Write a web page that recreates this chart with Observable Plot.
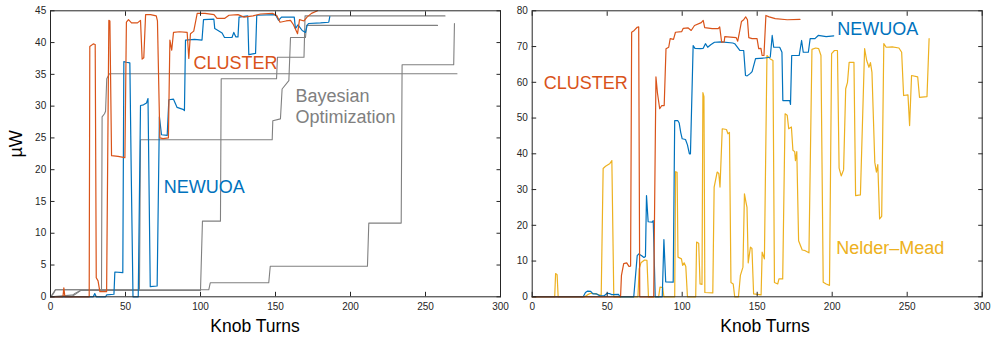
<!DOCTYPE html>
<html><head><meta charset="utf-8">
<script src="https://cdn.jsdelivr.net/npm/d3@7"></script>
<script src="https://cdn.jsdelivr.net/npm/@observablehq/plot@0.6"></script>
<style>
html,body{margin:0;padding:0;background:#fff;}
#wrap{position:relative;width:995px;height:341px;overflow:hidden;background:#fff;}
#left{position:absolute;left:0;top:0;z-index:2;}
#right{position:absolute;left:505px;top:0;z-index:1;}
#wrap svg{overflow:visible;}
</style></head><body><div id="wrap"><div id="left"></div><div id="right"></div></div>
<script>
// ---------- tick values ----------
const xTicks = [0, 50, 100, 150, 200, 250, 300];
const yTicksLeft = [0, 5, 10, 15, 20, 25, 30, 35, 40, 45];
const yTicksRight = [0, 10, 20, 30, 40, 50, 60, 70, 80];

// ---------- left panel: [knob turns, µW] ----------
const clusterLeft = [[0,0],[8.3,0],[8.9,1.4],[9.6,0],[25.8,0],[26.2,39.4],[27.5,39.6],[28.5,39.8],[29.8,39.7],[30.5,3.0],[31.7,2.5],[32.9,0.8],[37.4,0.8],[38.9,43.5],[39.6,43.4],[40.7,22.2],[45,22.1],[49.6,21.9],[50.6,43.2],[52,43.6],[54,43.1],[58,43.1],[60,43.5],[61.1,37.4],[62.2,37.6],[63.4,44.4],[66.7,44.4],[70.5,44.2],[71.3,43.4],[72.9,25.0],[75,24.9],[78.6,25.0],[79.6,40.4],[80.8,38.8],[82,41.6],[86,41.7],[91.1,41.6],[92.2,37.5],[93.3,41.4],[95.5,41.8],[97.8,44.6],[103,44.6],[109,44.4],[111,43.8],[116,43.8],[119,44.3],[125,44.4],[129,44.0],[135,44.2],[140,44.5],[148,44.6],[151,44.2],[153,43.2],[157,43.4],[160,43.5],[162,42.8],[164.7,41.4],[166,43.6],[169,43.4],[171,44.0],[174,44.6],[178,45]];
const newuoaLeft = [[0,0],[28.5,0],[29.5,0.5],[30.5,0],[36.7,0],[37.5,0.3],[42.3,0.4],[42.9,3.9],[48.2,3.8],[48.9,37.0],[50.5,36.9],[52.9,36.8],[53.8,20],[55,0],[58.5,0],[60,30.1],[62,30.2],[64,30.5],[65,31.2],[66.5,1.6],[71.1,1.7],[72.6,28.3],[74,25.5],[77.8,25.4],[78.9,31.0],[82,31.1],[84.4,29.8],[88.3,29.5],[89.3,29.3],[90,40.4],[96,40.5],[101,40.4],[102,43.6],[108.9,43.7],[109.5,42.2],[114.4,41.5],[116,40.8],[121,40.8],[122.2,41.6],[123.5,40.9],[125,40.9],[125.7,44.0],[131.5,44.2],[132.2,38.1],[136.7,38.3],[137.5,44.3],[150,44.4],[152,43.5],[154,44.0],[162.5,44.0],[163.3,42.2],[165,42.8],[167.8,41.9],[170,41.6],[171.1,42.7],[172,43.0],[180,43.1],[185.5,43.2],[186.2,44.1]];
const bayesLeftA = [[0,0],[1,0.3],[3.3,1.1],[105.5,1.1],[106.5,2.2],[145.5,2.2],[146.5,4.8],[211.3,4.8],[212.2,11.6],[233.8,11.6],[234.4,36.5],[268.8,36.5],[269.3,43.0]];
const bayesLeftB = [[0,0],[14.5,0],[16,0.5],[20,1.0],[34,1.0],[34.4,28.3],[36,28.8],[36.7,29.2],[37.5,34.3],[39.3,35.1],[271,35.1]];
const bayesLeftC = [[0,0],[2,0.5],[3.3,1.1],[59.3,1.1],[60,24.7],[147.8,24.7],[148.2,27.7],[153.3,28.0],[154.4,32.7],[158.9,34.0],[160,40.8],[170,40.8],[170.7,42.7],[258,42.7]];
const bayesLeftD = [[0,0],[16,0.3],[20,1.0],[100,1.0],[101.3,11.9],[113.3,11.9],[113.8,34.3],[150.7,34.3],[151.3,37.7],[169,37.7],[169.7,44.2],[263,44.2]];

// ---------- right panel: [knob turns, µW] ----------
const clusterRight = [[0,0],[58.9,0],[59.5,6],[61,9.3],[63,9.5],[64.5,8.5],[65.6,8.6],[66.3,74.0],[68,74.5],[70,75.4],[71,75.5],[71.7,0],[81,0],[82.5,61.5],[83.5,57],[85,52.6],[86.4,53.5],[88,53.5],[89.2,69.4],[91,69.8],[92,72.2],[94.2,72],[95.5,74],[99.7,74.2],[100.7,75.1],[104,75.2],[106,74.5],[108.2,75.9],[112.7,76.7],[114,77.3],[115,75.3],[120,75],[124,75],[125,75.5],[126.3,71.2],[128,71.3],[128.4,72.8],[136,72.5],[137,71.5],[138,73.6],[139.5,77],[141,77.5],[142.3,78.3],[143.5,77.5],[144.4,72.5],[146.6,72.2],[149.9,72.2],[151,69.4],[152.5,69.5],[153.3,67.5],[154.5,67.5],[155.8,78.7],[158,78.3],[162,77.8],[170,77.5],[178.5,77.6]];
const newuoaRight = [[0,0],[34,0],[35.5,1.2],[37,1.6],[39,1.5],[40.5,0.8],[43,0.8],[45,0.3],[48,0.3],[50,1.0],[51.5,0.9],[53,0.6],[57.5,0.7],[58.5,0],[67.7,0],[70,11.5],[71.1,12.0],[73,11.5],[74.5,11],[75.5,11.3],[76.2,28.3],[77.3,21.0],[80,20.9],[80.7,21.3],[82,0],[86.7,0],[87.8,16.0],[89,4.2],[94,4.1],[95,49.3],[97,49.3],[98,48.6],[99,46],[100,44.2],[102.2,44],[103.5,42.5],[104.8,40],[105.5,40],[107.3,70.3],[108.5,69.5],[112,69.4],[114,69.5],[115.5,70.8],[117,69.8],[119,70.5],[121.5,71.2],[126,71.3],[133.7,71],[135,70.8],[138.4,68.9],[141,68.9],[142.2,61.9],[143.3,61.8],[145.5,62.5],[146.6,63],[148.9,66.6],[155,66.8],[158.7,67],[160,73.1],[161,69.8],[165,69.8],[166.5,68.4],[167.1,54.9],[171.7,54.9],[172.2,53.8],[173,67.5],[178,67.5],[179.6,71.7],[180.7,68.4],[184.1,68.4],[185.3,72.2],[188.5,72.2],[190.7,73.1],[196,72.8],[201,73.0]];
const nelderMead = [[0,0],[15,0],[15.6,6.5],[16.6,6.2],[17.3,0],[35,0],[37,0.6],[39,1.0],[42,0.9],[44,0.6],[46,0.4],[47.3,35.9],[48.9,36.5],[51.6,37.2],[53.1,38.1],[54.4,0],[70.5,0],[71.3,7.8],[72.5,9.5],[74.9,10.3],[76.5,10.2],[77.5,0],[84.3,0],[85.2,2.7],[87,2.6],[87.8,0],[95,0],[95.6,35],[96.6,34.8],[97.2,11.1],[99.5,10.6],[100.3,8.8],[101.3,9.5],[102.4,8.5],[103.5,0],[109,0],[109.6,15.3],[111,15],[111.9,3.6],[113.2,3.5],[113.8,57.1],[114.5,56],[115.1,1.2],[120.4,1.1],[121.3,30.7],[123.3,34.9],[124.4,34.5],[125.2,30.7],[126.7,47],[129.5,46.8],[130.5,45.6],[131.5,46],[132.5,4],[134,3.6],[135,0],[137.5,0],[138.8,6],[140.5,8.3],[141.5,28.8],[142.5,26.5],[143.2,25],[144,9.5],[145.5,13.9],[146.5,13.5],[147.6,0.8],[151.5,0.6],[152.6,0.5],[153.3,12.5],[154.8,10.6],[156.5,67.5],[158.5,66.6],[160.5,66.1],[161.5,4],[163.7,3.6],[164.5,5],[167,5],[168.6,51.2],[170,50.8],[171,47],[172.8,47.5],[173.8,41],[175,40.6],[175.5,38.1],[176.4,40.6],[177.6,15.7],[180,13.1],[182,12.9],[184.5,12.3],[186.5,69.2],[189,69.6],[191,69.4],[192.5,67.5],[194,4.1],[196,3.6],[198.2,3.2],[199.6,68],[201.5,68.9],[203.5,68.9],[204.6,36],[206,33.8],[207.6,35.5],[209,58.2],[210.2,60],[211.3,65.6],[214.5,65.6],[215.6,28.3],[218.8,28.5],[221.6,69.4],[223,66.1],[224.5,64.2],[225.5,65.5],[226.5,62.8],[228.4,37.6],[229.5,34.9],[230.4,37],[231.6,21.8],[233,22.5],[234.4,70.8],[236,69.8],[240,69.9],[244.5,69.6],[246.3,68.4],[247.6,56.3],[250.5,56.5],[251.6,47.9],[252.9,61.9],[257,61.5],[258.2,55.8],[263.2,56],[264.6,72.2]];

// ---------- series labels ----------
const labelNamesLeft = ["CLUSTER", "Bayesian\nOptimization", "NEWUOA"];
const labelXLeft = [95.3, 163.3, 75.5];
const labelYLeft = [35.8, 27.3, 16.3];
const labelNamesRight = ["CLUSTER", "NEWUOA", "Nelder\u2013Mead"];
const labelXRight = [7.7, 203.3, 202.7];
const labelYRight = [58.2, 73.1, 12.0];

const ORANGE = "#D95319", BLUE = "#0072BD", YELLOW = "#EDB120", GRAY = "#808080";
const FONT = "'Liberation Sans', Arial, Helvetica, sans-serif";

function panel({width, marginLeft, marginRight, yMax, yTicks, series, names, lx, ly, colors, xLabelDx, yLabel}) {
  const labels = names.map((t, i) => ({text: t, x: lx[i], y: ly[i], color: colors[i]}));
  const marks = [
    ...series.map(s => Plot.line(s.data, {x: d => d[0], y: d => d[1], stroke: s.color, strokeWidth: s.width})),
    Plot.frame({stroke: "#262626", strokeWidth: 1}),
    Plot.axisX(xTicks, {anchor: "bottom", tickSize: -4.5, tickPadding: 10.5, label: null, fontSize: 10}),
    Plot.axisX(xTicks, {anchor: "top", tickSize: -4.5, tickFormat: () => "", label: null}),
    Plot.axisY(yTicks, {anchor: "left", tickSize: -4.5, tickPadding: 8.8, label: null, fontSize: 10}),
    Plot.axisY(yTicks, {anchor: "right", tickSize: -4.5, tickFormat: () => "", label: null}),
    Plot.text(labels, {x: "x", y: "y", text: "text", fill: "color", textAnchor: "start", lineAnchor: "bottom", fontSize: 18, lineHeight: 1.167}),
    Plot.text(["Knob Turns"], {text: d => d, frameAnchor: "bottom", lineAnchor: "bottom", dy: 35.4, dx: xLabelDx, fontSize: 17.5, fill: "#000"})
  ];
  if (yLabel) marks.push(Plot.text([yLabel], {text: d => d, frameAnchor: "left", rotate: -90, dx: -33.8, dy: 3.7, fontSize: 18, fill: "#000"}));
  return Plot.plot({
    width, height: 341, marginLeft, marginRight, marginTop: 10.3, marginBottom: 44.7,
    style: {fontFamily: FONT, fontSize: "10px", color: "#262626", background: "transparent", overflow: "visible"},
    x: {domain: [0, 300], axis: null},
    y: {domain: [0, yMax], axis: null},
    marks
  });
}

document.getElementById("left").append(panel({
  width: 505, marginLeft: 50, marginRight: 5, yMax: 45, yTicks: yTicksLeft,
  series: [
    {data: bayesLeftA, color: GRAY, width: 1.1},
    {data: bayesLeftB, color: GRAY, width: 1.1},
    {data: bayesLeftC, color: GRAY, width: 1.1},
    {data: bayesLeftD, color: GRAY, width: 1.1},
    {data: newuoaLeft, color: BLUE, width: 1.2},
    {data: clusterLeft, color: ORANGE, width: 1.2}
  ],
  names: labelNamesLeft, lx: labelXLeft, ly: labelYLeft, colors: [ORANGE, GRAY, BLUE],
  xLabelDx: -20.5, yLabel: "\u00B5W"
}));

document.getElementById("right").append(panel({
  width: 490, marginLeft: 26.7, marginRight: 13.3, yMax: 80, yTicks: yTicksRight,
  series: [
    {data: nelderMead, color: YELLOW, width: 1.2},
    {data: newuoaRight, color: BLUE, width: 1.2},
    {data: clusterRight, color: ORANGE, width: 1.2}
  ],
  names: labelNamesRight, lx: labelXRight, ly: labelYRight, colors: [ORANGE, BLUE, YELLOW],
  xLabelDx: 7.8, yLabel: null
}));
</script>
</body></html>
